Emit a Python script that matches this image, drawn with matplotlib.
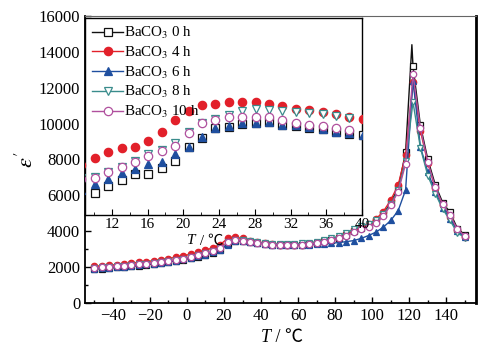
import numpy as np
import matplotlib
matplotlib.use("Agg")
import matplotlib.pyplot as plt
from matplotlib.ticker import MultipleLocator

plt.rcParams['font.family'] = ['Liberation Serif', 'Noto Sans CJK SC', 'DejaVu Sans']
plt.rcParams['mathtext.fontset'] = 'stix'

# ---------------- data (main plot) ----------------
T_main = [-50, -46, -42, -38, -34, -30, -26, -22, -18, -14,
          -10, -6, -2, 2, 6, 10, 14, 18, 22,
          26, 30, 34, 38, 42, 46, 50, 54, 58,
          62, 66, 70, 74, 78, 82, 86, 90, 94,
          98, 102, 106, 110, 114, 118, 122, 126, 130,
          134, 138, 142, 146, 150]

eps_0h = [1900, 1920, 1950, 1980, 2010, 2050, 2090, 2130, 2180, 2230,
          2290, 2350, 2420, 2500, 2590, 2690, 2810, 2970, 3300,
          3480, 3470, 3420, 3360, 3300, 3260, 3240, 3230, 3230,
          3250, 3290, 3350, 3430, 3530, 3650, 3800, 4000, 4180,
          4350, 4550, 4950, 5600, 6400, 8400, 13200, 9900, 8000,
          6600, 5600, 5050, 4150, 3800]
peak_T_0h = 121.4
peak_eps_0h = 14400

eps_4h = [2050, 2080, 2110, 2140, 2180, 2220, 2260, 2310, 2360, 2420,
          2480, 2550, 2630, 2720, 2820, 2940, 3080, 3260, 3600,
          3660, 3600, 3480, 3400, 3330, 3280, 3250, 3240, 3240,
          3260, 3300, 3360, 3440, 3540, 3660, 3820, 4050, 4250,
          4400, 4680, 5100, 5740, 6580, 8250, 12300, 9600, 7800,
          6400, 5450, 4800, 4070, 3700]

eps_6h = [1920, 1940, 1970, 2000, 2030, 2070, 2110, 2150, 2200, 2250,
          2300, 2360, 2430, 2510, 2600, 2700, 2820, 2970, 3250,
          3450, 3450, 3400, 3350, 3290, 3250, 3230, 3220, 3220,
          3230, 3250, 3270, 3300, 3330, 3370, 3420, 3480, 3600,
          3760, 3950, 4230, 4600, 5150, 6300, 12400, 8700, 7300,
          6200, 5300, 4700, 4000, 3700]

eps_8h = [1950, 1980, 2010, 2040, 2070, 2110, 2150, 2190, 2240, 2290,
          2350, 2410, 2480, 2560, 2650, 2760, 2880, 3050, 3380,
          3500, 3490, 3440, 3390, 3340, 3300, 3290, 3290, 3300,
          3320, 3360, 3420, 3500, 3600, 3730, 3900, 4120, 4280,
          4420, 4600, 4950, 5500, 6300, 7900, 11200, 8650, 7100,
          6100, 5250, 4600, 3900, 3650]

eps_10h = [1950, 1980, 2010, 2040, 2070, 2110, 2150, 2190, 2240, 2290,
           2350, 2410, 2480, 2560, 2650, 2760, 2880, 3050, 3400,
           3500, 3480, 3420, 3360, 3300, 3260, 3240, 3230, 3230,
           3250, 3280, 3340, 3420, 3510, 3620, 3760, 3950, 4100,
           4250, 4450, 4850, 5450, 6200, 7750, 12750, 9750, 7850,
           6450, 5500, 4900, 4100, 3750]

# ---------------- data (inset) ----------------
nan = np.nan
T_in = [8.6, 10.1, 11.6, 13.1, 14.6, 16.1, 17.6, 19.1, 20.6, 22.1, 23.6,
        25.1, 26.6, 28.1, 29.6, 31.1, 32.6, 34.1, 35.6, 37.1, 38.6, 40.1]
in_0h = [nan, 6115, 6520, 6860, 7190, 7190, 7510, 7920, 8680, 9200, 9740,
         9830, 9990, 10030, 10080, 9920, 9880, 9770, 9680, 9520, 9430, 9340]
in_4h = [7690, 8070, 8400, 8660, 8700, 9050, 9530, 10200, 10700, 11040, 11060,
         11190, 11210, 11210, 11110, 10980, 10830, 10760, 10630, 10520, 10390, 10260]
in_6h = [6300, 6620, 6900, 7230, 7450, 7730, 7880, 8310, 8715, 9240, 9775,
         9870, 10020, 10050, 10110, 9940, 9910, 9790, 9700, 9550, 9460, 9370]
in_8h = [6950, 7010, 7290, 7600, 7900, 8290, 8530, 8940, 9500, 10050, 10240,
         10480, 10670, 10800, 10760, 10700, 10630, 10570, 10520, 10430, 10330, nan]
in_10h = [6900, 6990, 7270, 7600, 7880, 8210, 8450, 8770, 9460, 10050, 10200,
          10390, 10350, 10390, 10350, 10170, 10050, 9890, 9850, 9740, 9650, nan]

labels = ["BaCO$_3$ 0 h", "BaCO$_3$ 4 h", "BaCO$_3$ 6 h", "BaCO$_3$ 8 h", "BaCO$_3$ 10 h"]

black = "#111111"
red = "#e2202a"
blue = "#1f4f9f"
teal = "#3a8c8c"
pink = "#b0509e"

styles = [
    dict(color=black, marker='s', mfc='white', mec=black),
    dict(color=red, marker='o', mfc=red, mec=red),
    dict(color=blue, marker='^', mfc=blue, mec=blue),
    dict(color=teal, marker='v', mfc='white', mec=teal),
    dict(color=pink, marker='o', mfc='white', mec=pink),
]

W, H = 496, 360
fig = plt.figure(figsize=(W / 100, H / 100), dpi=100)
ax = fig.add_axes([85/W, 57/H, 391/W, 287/H])

# black line includes the sharp maximum between the marker points
T0_line = np.array(T_main + [peak_T_0h])
e0_line = np.array(eps_0h + [peak_eps_0h])
order = np.argsort(T0_line)
T0_line, e0_line = T0_line[order], e0_line[order]
ax.plot(T0_line, e0_line, color=black, lw=1.0, zorder=2)
ax.plot(T_main, eps_0h, ls='none', marker='s', mfc='white', mec=black, ms=4.6, mew=0.9, zorder=3)

main_series = [eps_4h, eps_6h, eps_8h, eps_10h]
for ser, st in zip(main_series, styles[1:]):
    ax.plot(T_main, ser, lw=1.0, ms=4.6, mew=0.9, zorder=3, **st)

ax.set_xlim(-55, 156)
ax.set_ylim(0, 16000)
ax.xaxis.set_major_locator(MultipleLocator(20))
ax.xaxis.set_minor_locator(MultipleLocator(10))
ax.yaxis.set_major_locator(MultipleLocator(2000))
ax.yaxis.set_minor_locator(MultipleLocator(1000))
ax.tick_params(which='both', direction='in', top=False, right=False, labelsize=12)
ax.tick_params(which='major', length=4, width=1)
ax.tick_params(which='minor', length=2.5, width=1)
for s in ['left', 'bottom']:
    ax.spines[s].set_linewidth(1.3)
ax.spines['right'].set_linewidth(2.0)
ax.spines['top'].set_linewidth(0.8)
ax.spines['top'].set_color('#666666')


def unit_label(xpix, ypix, size):
    """Italic T followed by ' / ℃', split at xpix (pixel coords from top-left)."""
    fx, fy = xpix / W, 1 - ypix / H
    fig.text(fx, fy, "T", fontsize=size, style='italic', ha='right', va='center')
    fig.text(fx, fy, " / ℃", fontsize=size, ha='left', va='center',
             family=['Liberation Serif', 'Noto Sans CJK SC', 'DejaVu Sans'])


unit_label(271, 338, 13)
fig.text(27 / W, 1 - 160 / H, r"$\varepsilon'$", fontsize=16, rotation=90,
         ha='center', va='center')

# ---------------- inset ----------------
ins = fig.add_axes([85/W, 145/H, 277/W, 197/H])
ins_series = [in_0h, in_4h, in_6h, in_8h, in_10h]
handles = []
for ser, st, lab in zip(ins_series, styles, labels):
    ins.plot(T_in, ser, ls='none', ms=6.0, mew=0.9, zorder=3, **st)
    h, = ins.plot([], [], lw=1.0, ms=6.0, mew=0.9, label=lab, **st)
    handles.append(h)
ins.set_xlim(9, 40)
ins.set_ylim(4900, 15880)
ins.xaxis.set_major_locator(MultipleLocator(4))
ins.xaxis.set_minor_locator(MultipleLocator(2))
ins.tick_params(which='both', direction='in', labelsize=11, left=False, labelleft=False, pad=2)
ins.tick_params(which='major', length=4)
ins.tick_params(which='minor', length=2.5)
for s in ins.spines.values():
    s.set_linewidth(1.0)
unit_label(196, 241, 11)

leg = ins.legend(handles=handles, loc='upper left', bbox_to_anchor=(0.0, 1.0),
                 frameon=False, fontsize=10.8, handlelength=2.1, handletextpad=0.05,
                 labelspacing=0.25, borderaxespad=0.2, borderpad=0.25)

fig.savefig("out.png", dpi=100)
